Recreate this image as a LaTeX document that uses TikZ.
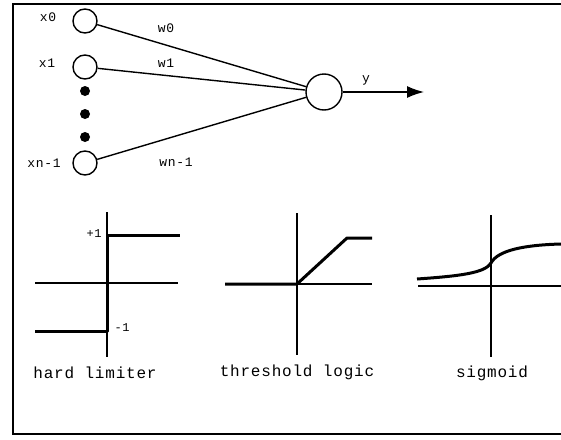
\documentclass[tikz,border=0pt]{standalone}
\usepackage{fontspec}
\newfontfamily\typewfont[LetterSpace=5]{Liberation Mono}
\usepackage{tikz}
\usetikzlibrary{arrows.meta}

\tikzset{
    neuron/.style={draw, circle, line width=1.4pt, minimum size=24pt, inner sep=0pt},
    dotnode/.style={fill, circle, minimum size=10pt, inner sep=0pt},
    conn/.style={line width=1.4pt},
    lbl/.style={font=\typewfont\fontsize{13}{13}\selectfont, inner sep=1pt},
    capt/.style={font=\typewfont\fontsize{16}{16}\selectfont, inner sep=1pt},
    axis/.style={line width=1.1pt},
    curve/.style={line width=3pt, line join=round},
}

\begin{document}
\begin{tikzpicture}[x=1pt, y=-1pt]
    \useasboundingbox (0,0) rectangle (561,439);
    \draw[line width=2pt] (561,4) -- (13,4) -- (13,434) -- (561,434);

    % inputs
    \node[neuron] (in0) at (85,21) {};
    \node[neuron] (in1) at (85,67) {};
    \node[neuron] (inn) at (85,163) {};
    \foreach \y/\n in {91/a, 114/b, 137/c}
        \node[dotnode] (dot\n) at (85,\y) {};
    \node[lbl] (lx0) at (48,17) {x0};
    \node[lbl] (lx1) at (47,63) {x1};
    \node[lbl] (lxn) at (44,163) {xn-1};

    % summing unit
    \node[neuron, minimum size=36pt] (out) at (324,92) {};
    \coordinate (yend) at (424,92);
    \draw[conn] (in0) -- (out);
    \draw[conn] (in1) -- (out);
    \draw[conn] (inn) -- (out);
    \draw[conn, -{Latex[length=17pt, width=12pt]}] (out) -- (yend);
    \node[lbl] (lw0) at (166,28) {w0};
    \node[lbl] (lw1) at (166,63) {w1};
    \node[lbl] (lwn) at (176,162) {wn-1};
    \node[lbl] (ly) at (366,80) {y};

    % hard limiter
    \draw[axis] (35,283) -- (178,283);
    \draw[axis] (107,212) -- (107,357);
    \draw[curve] (35,331) -- (107,331) -- (107,235) -- (180,235);
    \node[lbl, font=\typewfont\fontsize{12}{12}\selectfont] (lp1) at (94,234) {+1};
    \node[lbl, font=\typewfont\fontsize{12}{12}\selectfont] (lm1) at (122,328) {-1};
    \node[capt] (chard) at (95,373) {hard limiter};

    % threshold logic
    \draw[axis] (225,284) -- (372,284);
    \draw[axis] (297,213) -- (297,355);
    \draw[curve] (225,284) -- (297,284) -- (347,238) -- (372,238);
    \node[capt] (cthr) at (297,372) {threshold logic};

    % sigmoid
    \draw[axis] (418,286) -- (561,286);
    \draw[axis] (491,215) -- (491,357);
    \draw[curve] (417,279) .. controls (460,276) and (485,273) .. (491,263)
        .. controls (498,250) and (525,245) .. (561,244);
    \node[capt] (csig) at (492,373) {sigmoid};
\end{tikzpicture}
\end{document}
